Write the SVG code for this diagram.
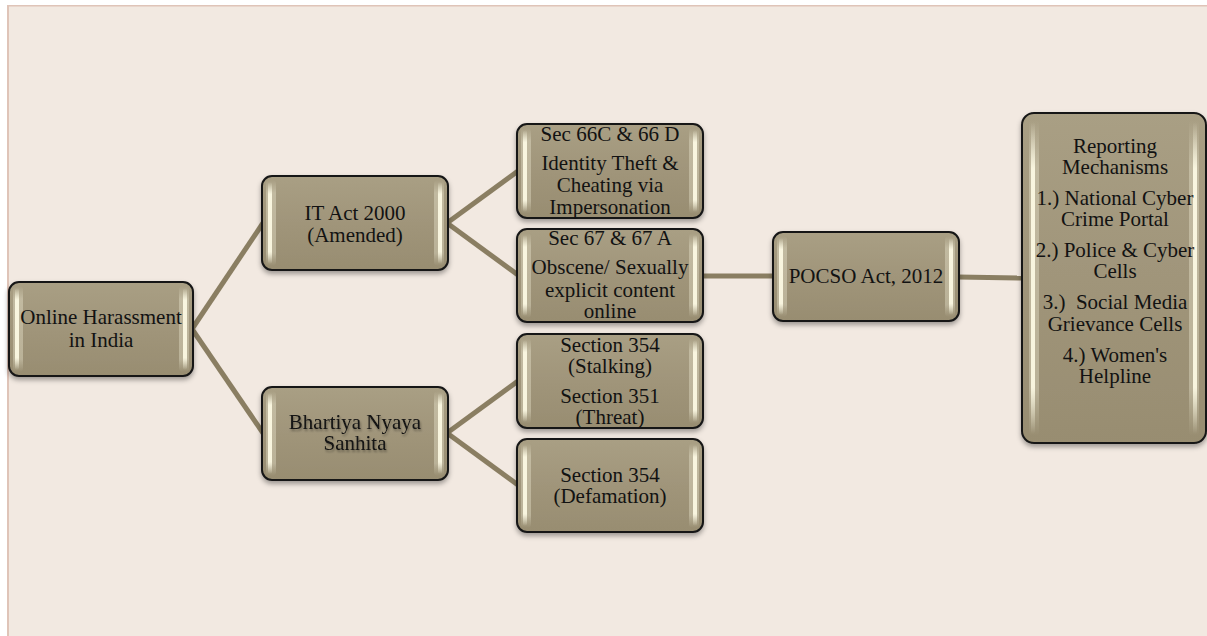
<svg xmlns="http://www.w3.org/2000/svg" width="1207" height="636" viewBox="0 0 1207 636">
<style>
.box{fill:url(#boxFill);stroke:#151515;stroke-width:2;filter:url(#shadow)}
.hl{fill:url(#hlV)}
.glow{fill:url(#hlV);opacity:0.35}
.t{font-family:"Liberation Serif","Times New Roman",serif;font-size:21px;fill:#121212;text-anchor:middle}
.ts{filter:url(#tshadow)}
.conn{stroke:#8A7E62;stroke-width:5;fill:none;stroke-linecap:butt}
</style>
<defs>
<linearGradient id="boxFill" x1="0" y1="0" x2="0" y2="1">
<stop offset="0" stop-color="#A99F84"/>
<stop offset="0.5" stop-color="#A0957A"/>
<stop offset="1" stop-color="#988D71"/>
</linearGradient>
<linearGradient id="hlV" x1="0" y1="0" x2="0" y2="1">
<stop offset="0" stop-color="#FFFCE6" stop-opacity="0"/>
<stop offset="0.15" stop-color="#FFFCE6" stop-opacity="0.9"/>
<stop offset="0.85" stop-color="#FFFCE6" stop-opacity="0.9"/>
<stop offset="1" stop-color="#FFFCE6" stop-opacity="0"/>
</linearGradient>
<filter id="shadow" x="-10%" y="-10%" width="120%" height="130%">
<feDropShadow dx="0" dy="3" stdDeviation="2.5" flood-color="#000" flood-opacity="0.35"/>
</filter>
<filter id="tshadow" x="-10%" y="-30%" width="120%" height="160%">
<feDropShadow dx="1" dy="2" stdDeviation="1.2" flood-color="#000" flood-opacity="0.35"/>
</filter>
</defs>

<rect x="0" y="0" width="1207" height="636" fill="#FFFFFF"/>
<rect x="7" y="5" width="1200" height="631" fill="#F2E9E1"/>
<rect x="7" y="5" width="1200" height="1.5" fill="#DFC4B8"/>
<rect x="7" y="5" width="2" height="631" fill="#DFC4B8"/>

<g id="connectors">
<line class="conn" x1="192" y1="329" x2="263" y2="223"/>
<line class="conn" x1="192" y1="329" x2="263" y2="433"/>
<line class="conn" x1="447" y1="223" x2="518" y2="171"/>
<line class="conn" x1="447" y1="223" x2="518" y2="275"/>
<line class="conn" x1="447" y1="433" x2="518" y2="381"/>
<line class="conn" x1="447" y1="433" x2="518" y2="485"/>
<line class="conn" x1="702" y1="276" x2="774" y2="276"/>
<line class="conn" x1="958" y1="277" x2="1023" y2="278"/>
</g>

<g id="node-online">
<rect class="box" x="9" y="282" width="184" height="94" rx="10"/>
<rect class="glow" x="13" y="286" width="10" height="86" rx="4"/>
<rect class="hl" x="15" y="288" width="4" height="82" rx="2"/>
<rect class="glow" x="179" y="286" width="10" height="86" rx="4"/>
<rect class="hl" x="183" y="288" width="4" height="82" rx="2"/>
<text class="t" x="101" y="324">Online Harassment</text>
<text class="t" x="101" y="347">in India</text>
</g>

<g id="node-itact">
<rect class="box" x="262" y="176" width="186" height="94" rx="10"/>
<rect class="glow" x="266" y="180" width="10" height="86" rx="4"/>
<rect class="hl" x="268" y="182" width="4" height="82" rx="2"/>
<rect class="glow" x="434" y="180" width="10" height="86" rx="4"/>
<rect class="hl" x="438" y="182" width="4" height="82" rx="2"/>
<text class="t" x="355" y="220">IT Act 2000</text>
<text class="t" x="355" y="242">(Amended)</text>
</g>

<g id="node-bns">
<rect class="box" x="262" y="387" width="186" height="93" rx="10"/>
<rect class="glow" x="266" y="391" width="10" height="85" rx="4"/>
<rect class="hl" x="268" y="393" width="4" height="81" rx="2"/>
<rect class="glow" x="434" y="391" width="10" height="85" rx="4"/>
<rect class="hl" x="438" y="393" width="4" height="81" rx="2"/>
<text class="t ts" x="355" y="429">Bhartiya Nyaya</text>
<text class="t ts" x="355" y="450">Sanhita</text>
</g>

<g id="node-sec66">
<rect class="box" x="517" y="124" width="186" height="94" rx="10"/>
<rect class="glow" x="521" y="128" width="10" height="86" rx="4"/>
<rect class="hl" x="523" y="130" width="4" height="82" rx="2"/>
<rect class="glow" x="689" y="128" width="10" height="86" rx="4"/>
<rect class="hl" x="693" y="130" width="4" height="82" rx="2"/>
<text class="t" x="610" y="141">Sec 66C &amp; 66 D</text>
<text class="t" x="610" y="170">Identity Theft &amp;</text>
<text class="t" x="610" y="192">Cheating via</text>
<text class="t" x="610" y="214">Impersonation</text>
</g>

<g id="node-sec67">
<rect class="box" x="517" y="229" width="186" height="93" rx="10"/>
<rect class="glow" x="521" y="233" width="10" height="85" rx="4"/>
<rect class="hl" x="523" y="235" width="4" height="81" rx="2"/>
<rect class="glow" x="689" y="233" width="10" height="85" rx="4"/>
<rect class="hl" x="693" y="235" width="4" height="81" rx="2"/>
<text class="t" x="610" y="245">Sec 67 &amp; 67 A</text>
<text class="t" x="610" y="274">Obscene/ Sexually</text>
<text class="t" x="610" y="297">explicit content</text>
<text class="t" x="610" y="318">online</text>
</g>

<g id="node-stalking">
<rect class="box" x="517" y="334" width="186" height="94" rx="10"/>
<rect class="glow" x="521" y="338" width="10" height="86" rx="4"/>
<rect class="hl" x="523" y="340" width="4" height="82" rx="2"/>
<rect class="glow" x="689" y="338" width="10" height="86" rx="4"/>
<rect class="hl" x="693" y="340" width="4" height="82" rx="2"/>
<text class="t" x="610" y="352">Section 354</text>
<text class="t" x="610" y="373">(Stalking)</text>
<text class="t" x="610" y="403">Section 351</text>
<text class="t" x="610" y="424">(Threat)</text>
</g>

<g id="node-defamation">
<rect class="box" x="517" y="439" width="186" height="93" rx="10"/>
<rect class="glow" x="521" y="443" width="10" height="85" rx="4"/>
<rect class="hl" x="523" y="445" width="4" height="81" rx="2"/>
<rect class="glow" x="689" y="443" width="10" height="85" rx="4"/>
<rect class="hl" x="693" y="445" width="4" height="81" rx="2"/>
<text class="t" x="610" y="482">Section 354</text>
<text class="t" x="610" y="503">(Defamation)</text>
</g>

<g id="node-pocso">
<rect class="box" x="773" y="232" width="186" height="89" rx="10"/>
<rect class="glow" x="777" y="236" width="10" height="81" rx="4"/>
<rect class="hl" x="779" y="238" width="4" height="77" rx="2"/>
<rect class="glow" x="945" y="236" width="10" height="81" rx="4"/>
<rect class="hl" x="949" y="238" width="4" height="77" rx="2"/>
<text class="t" x="866" y="283">POCSO Act, 2012</text>
</g>

<g id="node-reporting">
<rect class="box" x="1022" y="113" width="184" height="330" rx="12"/>
<rect class="glow" x="1029" y="120" width="10" height="316" rx="4"/>
<rect class="hl" x="1031" y="122" width="4" height="312" rx="2"/>
<rect class="glow" x="1189" y="120" width="10" height="316" rx="4"/>
<rect class="hl" x="1193" y="122" width="4" height="312" rx="2"/>
<text class="t" x="1115" y="153">Reporting</text>
<text class="t" x="1115" y="174">Mechanisms</text>
<text class="t" x="1115" y="205">1.) National Cyber</text>
<text class="t" x="1115" y="226">Crime Portal</text>
<text class="t" x="1115" y="257">2.) Police &amp; Cyber</text>
<text class="t" x="1115" y="278">Cells</text>
<text class="t" x="1115" y="309" xml:space="preserve">3.)  Social Media</text>
<text class="t" x="1115" y="331">Grievance Cells</text>
<text class="t" x="1115" y="362">4.) Women's</text>
<text class="t" x="1115" y="383">Helpline</text>
</g>
</svg>
